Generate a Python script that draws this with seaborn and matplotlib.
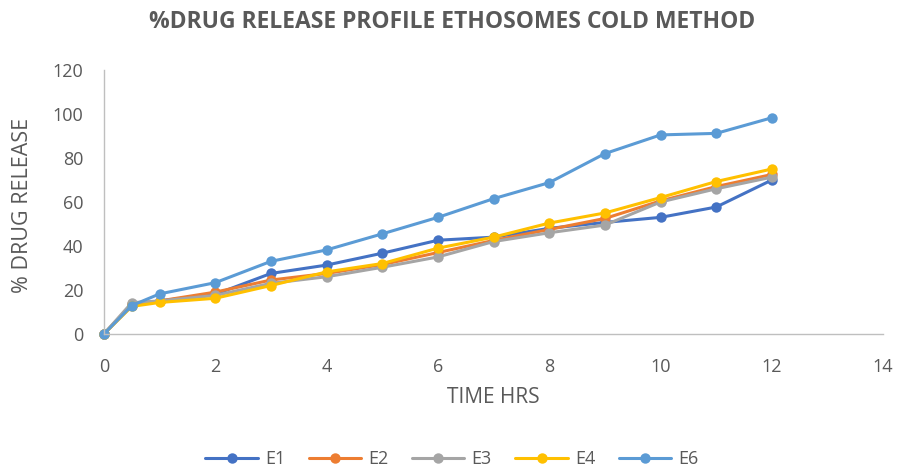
import matplotlib
matplotlib.use("Agg")
import matplotlib.pyplot as plt
import seaborn as sns
import pandas as pd

time_hrs = [0, 0.5, 1, 2, 3, 4, 5, 6, 7, 8, 9, 10, 11, 12]
E1 = [0, 13.0, 15.0, 18.0, 27.5, 31.3, 36.7, 42.6, 44.0, 48.0, 50.7, 53.0, 57.7, 70.0]
E2 = [0, 13.5, 15.0, 19.0, 24.5, 27.5, 31.5, 37.0, 42.5, 47.5, 52.5, 60.5, 67.0, 72.5]
E3 = [0, 14.2, 15.0, 17.5, 23.0, 26.0, 30.3, 35.0, 42.0, 46.0, 49.5, 60.0, 66.0, 71.3]
E4 = [0, 12.5, 14.3, 16.2, 22.0, 28.2, 32.0, 39.0, 44.0, 50.4, 55.0, 62.0, 69.3, 75.0]
E6 = [0, 12.9, 18.2, 23.3, 33.0, 38.2, 45.5, 53.0, 61.5, 68.8, 82.0, 90.5, 91.2, 98.3]

series_names = ["E1", "E2", "E3", "E4", "E6"]
series_values = [E1, E2, E3, E4, E6]
colors = ["#4472C4", "#ED7D31", "#A5A5A5", "#FFC000", "#5B9BD5"]
x_ticks = [0, 2, 4, 6, 8, 10, 12, 14]
y_ticks = [0, 20, 40, 60, 80, 100, 120]

rows = []
for name, vals in zip(series_names, series_values):
    for t, v in zip(time_hrs, vals):
        rows.append({"Time": t, "Release": v, "Formulation": name})
df = pd.DataFrame(rows)

sns.set_theme(style="white")
plt.rcParams["font.family"] = ["Open Sans", "DejaVu Sans"]

fig = plt.figure(figsize=(9.04, 4.67), dpi=100)
ax = fig.add_axes([0.115, 0.285, 0.862, 0.565])

sns.lineplot(data=df, x="Time", y="Release", hue="Formulation",
             hue_order=series_names, palette=colors, marker="o",
             markersize=7.5, markeredgewidth=0, linewidth=2.2, ax=ax,
             legend=True)

txt = "#595959"
ax.set_xlim(0, 14)
ax.set_ylim(0, 120)
ax.set_xticks(x_ticks)
ax.set_yticks(y_ticks)
ax.tick_params(axis="both", length=0, labelsize=13, labelcolor=txt)
ax.tick_params(axis="x", pad=17)
ax.tick_params(axis="y", pad=15)
ax.set_xlabel("TIME HRS", fontsize=15, color=txt)
ax.set_ylabel("% DRUG RELEASE", fontsize=15.5, color=txt)
ax.xaxis.set_label_coords(0.5, -0.24)
ax.xaxis.label.set_verticalalignment("center")
ax.yaxis.set_label_coords(-0.104, 0.485)
ax.yaxis.label.set_verticalalignment("center")
for s in ["top", "right"]:
    ax.spines[s].set_visible(False)
for s in ["left", "bottom"]:
    ax.spines[s].set_color("#BFBFBF")
    ax.spines[s].set_linewidth(1.0)
for ln in ax.lines:
    ln.set_clip_on(False)

handles, labels = ax.get_legend_handles_labels()
ax.get_legend().remove()
fig.legend(handles, labels, loc="center", bbox_to_anchor=(0.5, 1 - 459 / 467),
           ncol=5, frameon=False, fontsize=13, labelcolor=txt,
           handlelength=2.9, columnspacing=1.3, handletextpad=0.4)

fig.text(0.5, 1 - 22 / 467, "%DRUG RELEASE PROFILE ETHOSOMES COLD METHOD",
         ha="center", va="center", fontsize=16.5, fontweight="bold", color=txt)

fig.savefig("out.png", dpi=100)
